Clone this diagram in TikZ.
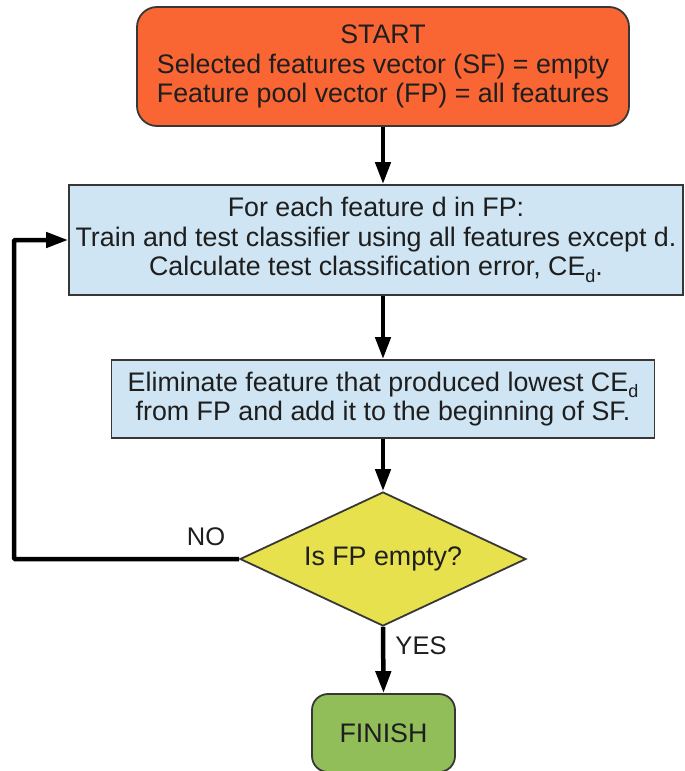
\documentclass[tikz,border=0pt]{standalone}
\usepackage{fontspec}
\setmainfont{Liberation Sans}
\usetikzlibrary{shapes.geometric,arrows.meta}
\definecolor{startfill}{RGB}{249,102,51}
\definecolor{boxfill}{RGB}{207,229,243}
\definecolor{decfill}{RGB}{230,225,76}
\definecolor{endfill}{RGB}{146,190,90}
\definecolor{edge}{RGB}{55,55,55}
\definecolor{ink}{RGB}{30,30,30}
\newcommand{\subd}{\raisebox{-0.45ex}{\fontsize{18}{18}\selectfont d}}
\tikzset{
  every node/.style={text=ink, font=\fontsize{26.8}{29.5}\selectfont},
  blk/.style={draw=edge, line width=1.8pt, align=center, inner sep=0pt},
  arr/.style={line width=4.5pt, -{Triangle[length=22pt,width=15pt]}},
  lbl/.style={font=\fontsize{25.5}{28}\selectfont}
}
\begin{document}
\begin{tikzpicture}[x=1pt,y=-1pt]
\useasboundingbox (0,0) rectangle (685,771);
\node[blk, fill=startfill, rounded corners=20pt, minimum width=492pt, minimum height=119pt] (start) at (383,66.5)
  {START\\Selected features vector (SF) = empty\\Feature pool vector (FP) = all features};
\node[blk, fill=boxfill, minimum width=614pt, minimum height=110pt] (loop) at (376,240)
  {For each feature d in FP:\\Train and test classifier using all features except d.\\Calculate test classification error, CE\subd.};
\node[blk, fill=boxfill, minimum width=543pt, minimum height=78pt] (elim) at (383,399)
  {Eliminate feature that produced lowest CE\subd\\from FP and add it to the beginning of SF.};
\node[blk, fill=decfill, diamond, aspect=2.13, minimum width=286pt, minimum height=134pt] (dec) at (383,559)
  {Is FP empty?};
\node[blk, fill=endfill, rounded corners=16pt, minimum width=143pt, minimum height=78pt] (finish) at (383.5,733)
  {FINISH};
\coordinate (bend) at (14,559);
\draw[arr] (start.south) -- (start.south |- loop.north);
\draw[arr] (elim.north |- loop.south) -- (elim.north);
\draw[arr] (elim.south) -- (dec.north);
\draw[arr] (dec.south) -- (finish.north);
\draw[arr, rounded corners=1pt] (dec.west) -- (bend) |- (loop.west);
\node[lbl] (no) at (206,537) {NO};
\node[lbl] (yes) at (421,646) {YES};
\end{tikzpicture}
\end{document}
